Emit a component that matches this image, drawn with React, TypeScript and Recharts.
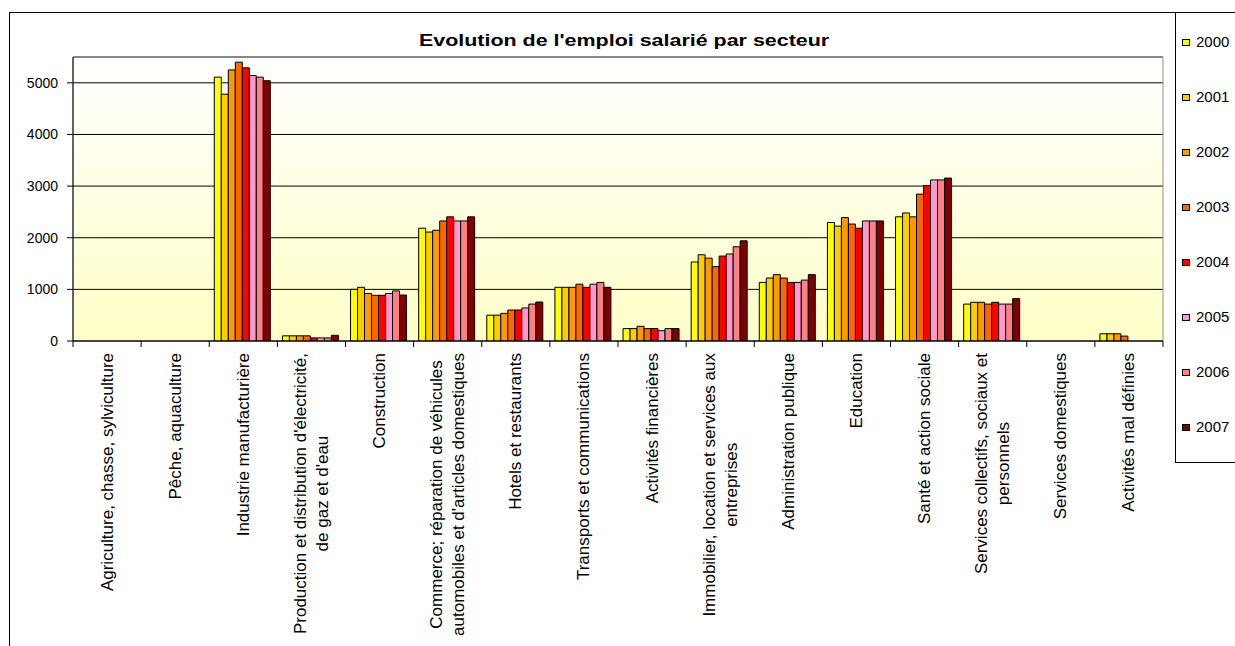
import React from 'react';
import { BarChart, Bar, XAxis, YAxis, CartesianGrid, Legend, ReferenceArea } from 'recharts';

const categories = [
  'Agriculture, chasse, sylviculture',
  'Pêche, aquaculture',
  'Industrie manufacturière',
  "Production et distribution d'électricité,\nde gaz et d'eau",
  'Construction',
  "Commerce; réparation de véhicules\nautomobiles et d'articles domestiques",
  'Hotels et restaurants',
  'Transports et communications',
  'Activités financières',
  'Immobilier, location et services aux\nentreprises',
  'Administration publique',
  'Education',
  'Santé et action sociale',
  'Services collectifs, sociaux et\npersonnels',
  'Services domestiques',
  'Activités mal définies',
];

const years = ['2000', '2001', '2002', '2003', '2004', '2005', '2006', '2007'];
const colors = ['#FFFF00', '#FFCC00', '#FF9900', '#FF6600', '#FF0000', '#FF99CC', '#FF8080', '#800000'];

const s2000 = [null, null, 5110, 100, 1000, 2185, 500, 1040, 240, 1530, 1135, 2295, 2405, 715, null, 140];
const s2001 = [null, null, 4780, 100, 1040, 2110, 500, 1040, 240, 1670, 1220, 2225, 2480, 750, null, 140];
const s2002 = [null, null, 5250, 100, 920, 2145, 535, 1040, 285, 1605, 1285, 2390, 2405, 750, null, 140];
const s2003 = [null, null, 5400, 100, 885, 2325, 600, 1100, 240, 1440, 1220, 2265, 2845, 715, null, 95];
const s2004 = [null, null, 5290, 60, 885, 2405, 600, 1040, 240, 1645, 1135, 2185, 3010, 750, null, null];
const s2005 = [null, null, 5140, 60, 920, 2325, 640, 1100, 200, 1685, 1135, 2325, 3120, 715, null, null];
const s2006 = [null, null, 5110, 60, 970, 2325, 715, 1135, 240, 1825, 1180, 2325, 3120, 715, null, null];
const s2007 = [null, null, 5040, 110, 890, 2405, 755, 1040, 240, 1940, 1285, 2325, 3155, 820, null, null];

const seriesValues = [s2000, s2001, s2002, s2003, s2004, s2005, s2006, s2007];
const yTicks = [0, 1000, 2000, 3000, 4000, 5000];
const title = "Evolution de l'emploi salarié par secteur";

const data = categories.map((name, i) => {
  const row: Record<string, any> = { name };
  years.forEach((y, k) => {
    row['y' + y] = seriesValues[k][i];
  });
  return row;
});

const FONT = "'Liberation Sans', Arial, Helvetica, sans-serif";
const LABEL_SIZE = 17;
const W = 1235;
const H = 646;
const MARGIN = { top: 57, right: 72, bottom: 5, left: 0 };
const Y_AXIS_W = 73;
const X_AXIS_H = 300;

let measureCtx: CanvasRenderingContext2D | null = null;
function textWidth(s: string): number {
  if (typeof document === 'undefined') return s.length * LABEL_SIZE * 0.5;
  if (!measureCtx) measureCtx = document.createElement('canvas').getContext('2d');
  if (!measureCtx) return s.length * LABEL_SIZE * 0.5;
  measureCtx.font = `${LABEL_SIZE}px ${FONT}`;
  return measureCtx.measureText(s).width;
}

const CategoryTick = (props: any) => {
  const { x, y, payload } = props;
  const index = props.index ?? payload?.index ?? 0;
  const plotW = W - MARGIN.left - MARGIN.right - Y_AXIS_W;
  const half = typeof payload?.offset === 'number' && payload.offset > 0 ? payload.offset : plotW / categories.length / 2;
  const lines = String(payload.value).split('\n');
  const maxW = Math.max(...lines.map(textWidth));
  const top = y + 12;
  const cy = top + maxW / 2;
  return (
    <g>
      <line x1={x - half} x2={x - half} y1={y} y2={y + 6} stroke="#000" strokeWidth={1} />
      {index === categories.length - 1 && (
        <line x1={x + half} x2={x + half} y1={y} y2={y + 6} stroke="#000" strokeWidth={1} />
      )}
      {lines.map((l, i) => {
        const lx = x + (i - (lines.length - 1) / 2) * 22;
        return (
          <text
            key={i}
            x={lx}
            y={cy}
            transform={`rotate(-90 ${lx} ${cy})`}
            textAnchor="middle"
            dominantBaseline="central"
            fontSize={LABEL_SIZE}
            fontFamily={FONT}
            fill="#000"
          >
            {l}
          </text>
        );
      })}
    </g>
  );
};

const LegendBox = () => (
  <div
    style={{
      position: 'relative',
      width: 100,
      height: 451,
      boxSizing: 'border-box',
      border: '1px solid #000',
      background: '#fff',
      fontFamily: FONT,
      fontSize: 15,
      color: '#000',
    }}
  >
    {years.map((y, k) => (
      <div key={y} style={{ position: 'absolute', left: 0, top: 29 + k * 55 - 9, height: 18, width: 100 }}>
        <div
          style={{
            position: 'absolute',
            left: 6,
            top: 6,
            width: 8,
            height: 7,
            boxSizing: 'border-box',
            border: '1px solid #000',
            background: colors[k],
          }}
        />
        <div style={{ position: 'absolute', left: 20, top: 0, lineHeight: '18px', whiteSpace: 'nowrap' }}>{y}</div>
      </div>
    ))}
  </div>
);

export default function App() {
  return (
    <div style={{ position: 'relative', width: W, height: H, overflow: 'hidden', background: '#fff' }}>
      <style>{`body{margin:0;overflow:hidden;}`}</style>
      <div
        style={{
          position: 'absolute',
          left: 9,
          top: 12,
          width: 1400,
          height: 900,
          border: '1px solid #000',
          boxSizing: 'border-box',
        }}
      />
      <div
        style={{
          position: 'absolute',
          left: 0,
          top: 32,
          width: 1248,
          textAlign: 'center',
          fontFamily: FONT,
          fontWeight: 'bold',
          fontSize: 16,
          lineHeight: '18px',
          color: '#000',
          zIndex: 2,
        }}
      >
        <span style={{ display: 'inline-block', transform: 'scaleX(1.34)' }}>{title}</span>
      </div>
      <div style={{ position: 'absolute', left: 0, top: 0 }}>
        <BarChart width={W} height={H} data={data} margin={MARGIN} barGap={0} barCategoryGap="7.4%">
          <defs>
            <linearGradient id="plotBg" x1="0" y1="0" x2="0" y2="1">
              <stop offset="0%" stopColor="#FFFFFF" />
              <stop offset="100%" stopColor="#FFFFC8" />
            </linearGradient>
          </defs>
          <CartesianGrid vertical={false} stroke="#000" strokeWidth={1} fill="url(#plotBg)" fillOpacity={1} />
          <ReferenceArea y1={0} y2={5500} fill="none" stroke="#909090" strokeWidth={1} ifOverflow="extendDomain" />
          <XAxis
            dataKey="name"
            type="category"
            interval={0}
            height={X_AXIS_H}
            tickLine={false}
            tickSize={0}
            tickMargin={0}
            axisLine={{ stroke: '#000', strokeWidth: 1 }}
            tick={<CategoryTick />}
          />
          <YAxis
            type="number"
            domain={[0, 5500]}
            ticks={yTicks}
            width={Y_AXIS_W}
            allowDataOverflow
            tickSize={6}
            tickMargin={9}
            axisLine={{ stroke: '#000', strokeWidth: 1 }}
            tickLine={{ stroke: '#000', strokeWidth: 1 }}
            tick={{ fill: '#000', fontSize: 14, fontFamily: FONT }}
          />
          {years.map((y, k) => (
            <Bar
              key={y}
              dataKey={'y' + y}
              name={y}
              fill={colors[k]}
              stroke="#000"
              strokeWidth={1}
              isAnimationActive={false}
            />
          ))}
          <Legend
            layout="vertical"
            align="center"
            verticalAlign="middle"
            wrapperStyle={{ left: 1175, top: 12, width: 100, height: 451 }}
            content={() => <LegendBox />}
          />
        </BarChart>
      </div>
    </div>
  );
}
